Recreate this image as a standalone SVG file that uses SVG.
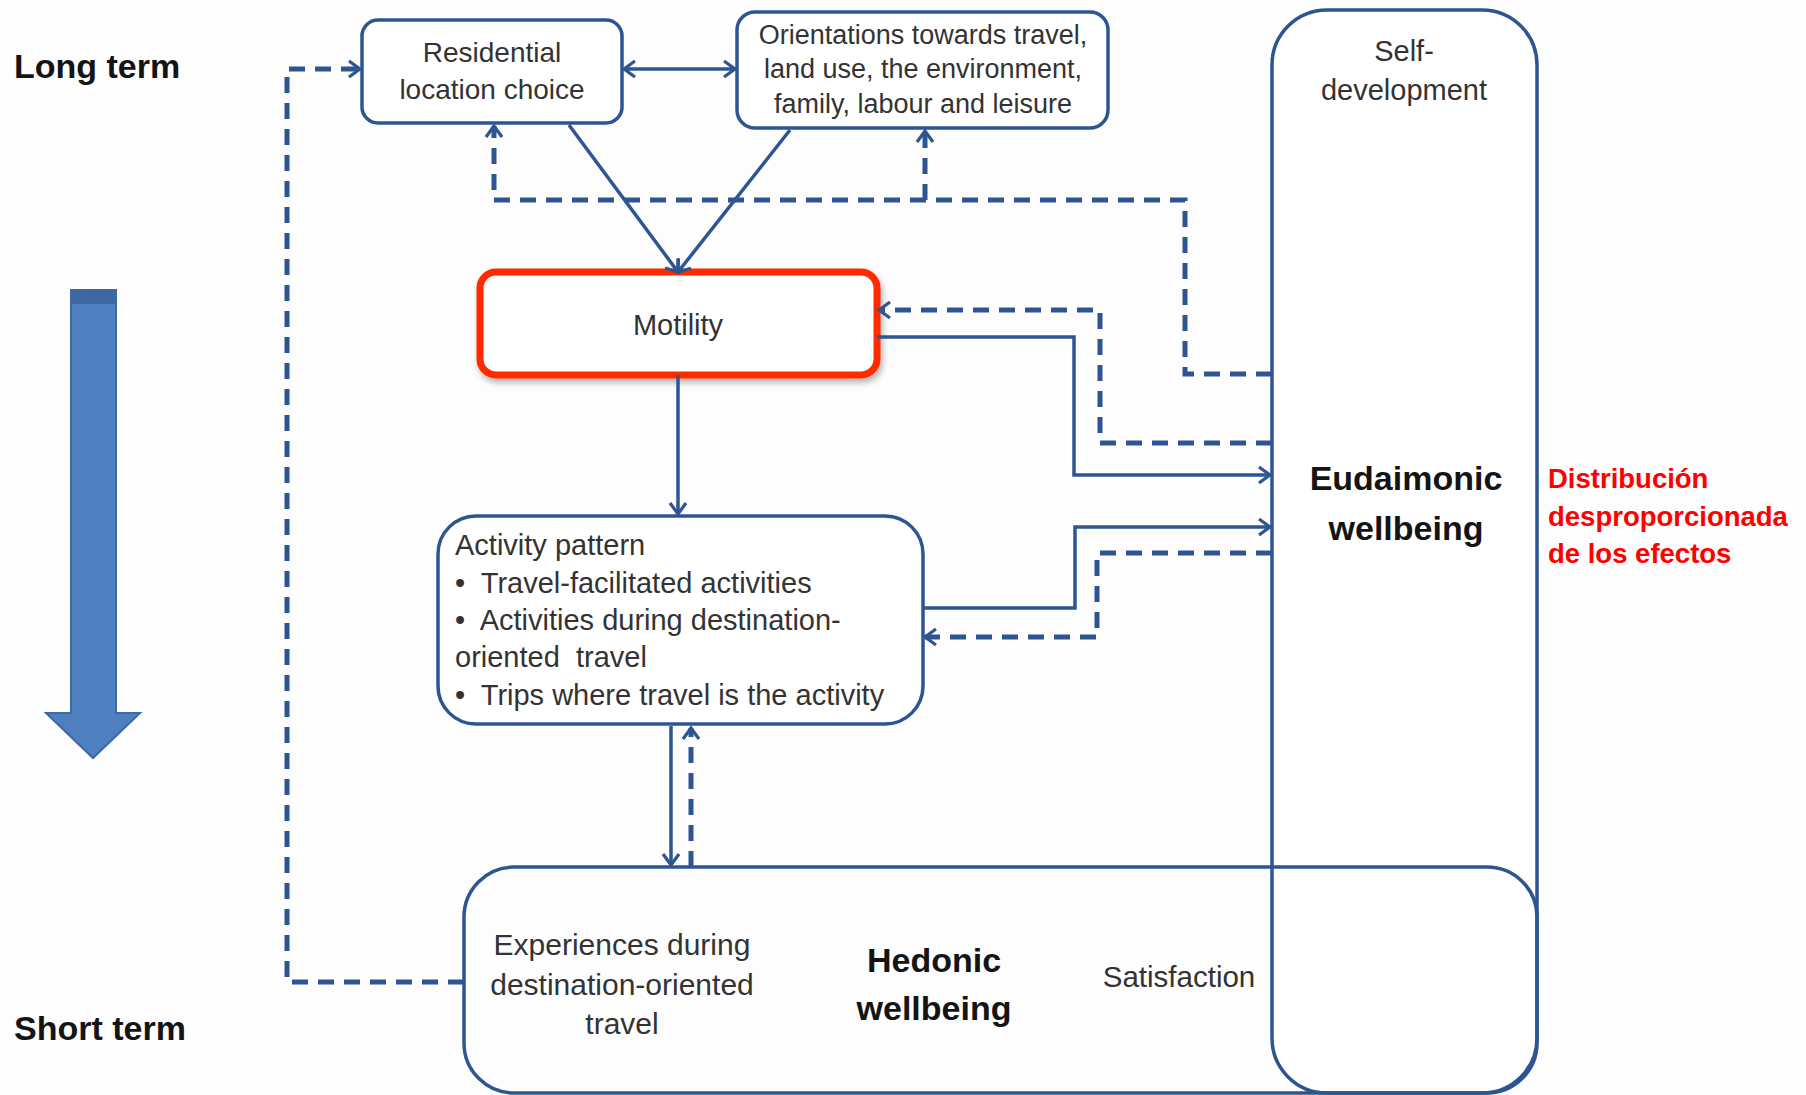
<svg xmlns="http://www.w3.org/2000/svg" width="1806" height="1095" viewBox="0 0 1806 1095">
<style>
.box{fill:#ffffff;stroke:#2D5591;stroke-width:3.5}
.t{font-family:"Liberation Sans",Arial,sans-serif;fill:#333333;dominant-baseline:central}
.c{text-anchor:middle}
.b{font-weight:bold;fill:#141414}
.solid{fill:none;stroke:#2D5591;stroke-width:3.5}
.dash{fill:none;stroke:#2D5591;stroke-width:5;stroke-dasharray:16 10}
.red{font-family:"Liberation Sans",Arial,sans-serif;font-weight:bold;fill:#FF0000;font-size:27.5px;dominant-baseline:central}
</style>
<defs>
<marker id="arr" markerWidth="20" markerHeight="20" refX="15" refY="10" orient="auto-start-reverse" markerUnits="userSpaceOnUse">
<path d="M4,2 L15,10 L4,18" fill="none" stroke="#2D5591" stroke-width="3.2" stroke-dasharray="none"/>
</marker>
<filter id="sh" x="-10%" y="-10%" width="130%" height="140%">
<feDropShadow dx="2" dy="4" stdDeviation="3" flood-color="#000" flood-opacity="0.3"/>
</filter>
</defs>
<rect width="1806" height="1095" fill="#fdfdfd"/>

<g id="time-arrow">
<path d="M71,290 L116,290 L116,713 L140,713 L93,758 L46,713 L71,713 Z" fill="#4F7FBE" stroke="#3D6AA6" stroke-width="2"/>
<rect x="71" y="290" width="45" height="14" fill="#3D68A3"/>
</g>
<g id="long-term"><text class="t b" x="14" y="66" font-size="34">Long term</text></g>
<g id="short-term"><text class="t b" x="14" y="1028" font-size="34">Short term</text></g>

<g id="eudaimonic">
<rect class="box" x="1272" y="10" width="265" height="1083" rx="55"/>
</g>
<g id="hedonic">
<rect class="box" x="464" y="867" width="1073" height="226" rx="50" style="fill:none"/>
</g>
<g id="eudaimonic-text">
<text class="t c" x="1404" y="51" font-size="29">Self-</text>
<text class="t c" x="1404" y="90" font-size="29">development</text>
<text class="t c b" x="1406" y="478" font-size="34">Eudaimonic</text>
<text class="t c b" x="1406" y="528" font-size="34">wellbeing</text>
</g>
<g id="hedonic-text">
<text class="t c" x="622" y="944" font-size="30">Experiences during</text>
<text class="t c" x="622" y="984" font-size="30">destination-oriented</text>
<text class="t c" x="622" y="1023" font-size="30">travel</text>
<text class="t c b" x="934" y="960" font-size="34">Hedonic</text>
<text class="t c b" x="934" y="1008" font-size="34">wellbeing</text>
<text class="t c" x="1179" y="976" font-size="29.5">Satisfaction</text>
</g>

<g id="residential">
<rect class="box" x="362" y="20" width="260" height="103" rx="16"/>
<text class="t c" x="492" y="52" font-size="28">Residential</text>
<text class="t c" x="492" y="89" font-size="28">location choice</text>
</g>
<g id="orientations">
<rect class="box" x="737" y="12" width="371" height="116" rx="18"/>
<text class="t c" x="923" y="35" font-size="27">Orientations towards travel,</text>
<text class="t c" x="923" y="69" font-size="27">land use, the environment,</text>
<text class="t c" x="923" y="104" font-size="27">family, labour and leisure</text>
</g>
<g id="motility">
<rect x="480" y="272" width="397" height="103" rx="16" fill="#ffffff" stroke="#FF2A00" stroke-width="7" filter="url(#sh)"/>
<text class="t c" x="678" y="325" font-size="29">Motility</text>
</g>
<g id="activity">
<rect class="box" x="438" y="516" width="485" height="208" rx="38"/>
<text class="t" x="455" y="545" font-size="29">Activity pattern</text>
<text class="t" x="455" y="583" font-size="29" xml:space="preserve">•  Travel-facilitated activities</text>
<text class="t" x="455" y="620" font-size="29" xml:space="preserve">•  Activities during destination-</text>
<text class="t" x="455" y="657" font-size="29" xml:space="preserve">oriented  travel</text>
<text class="t" x="455" y="695" font-size="29" xml:space="preserve">•  Trips where travel is the activity</text>
</g>
<g id="note">
<text class="red" x="1548" y="478">Distribución</text>
<text class="red" x="1548" y="516">desproporcionada</text>
<text class="red" x="1548" y="553">de los efectos</text>
</g>

<g id="connectors">
<path class="solid" d="M624,69 L735,69" marker-start="url(#arr)" marker-end="url(#arr)"/>
<path class="solid" d="M569,125 L678,272" marker-end="url(#arr)"/>
<path class="solid" d="M790,130 L678,272" marker-end="url(#arr)"/>
<path class="dash" d="M1272,374 L1185,374 L1185,200 L494,200 L494,126" marker-end="url(#arr)"/>
<path class="dash" d="M925,200 L925,131" marker-end="url(#arr)"/>
<path class="solid" d="M877,337 L1074,337 L1074,475 L1270,475" marker-end="url(#arr)"/>
<path class="dash" d="M1272,443 L1100,443 L1100,310 L879,310" marker-end="url(#arr)"/>
<path class="solid" d="M678,375 L678,514" marker-end="url(#arr)"/>
<path class="solid" d="M923,608 L1075,608 L1075,527 L1270,527" marker-end="url(#arr)"/>
<path class="dash" d="M1272,553 L1097,553 L1097,637 L925,637" marker-end="url(#arr)"/>
<path class="solid" d="M671,726 L671,865" marker-end="url(#arr)"/>
<path class="dash" d="M691,867 L691,728" marker-end="url(#arr)"/>
<path class="dash" d="M464,982 L287,982 L287,69 L360,69" marker-end="url(#arr)"/>
</g>
</svg>
